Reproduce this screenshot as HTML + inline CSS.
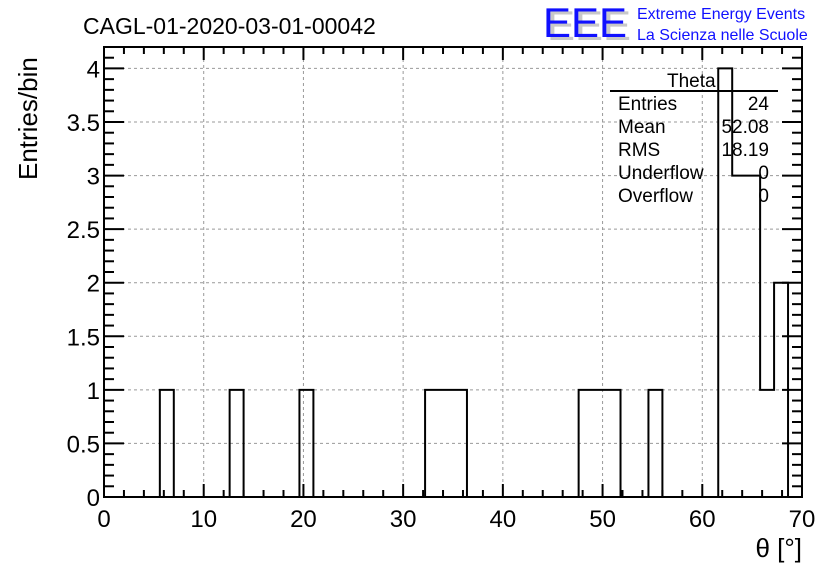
<!DOCTYPE html>
<html><head><meta charset="utf-8"><style>
body{margin:0;background:#fff}
svg{display:block;font-family:"Liberation Sans",sans-serif}
</style></head><body>
<svg id="c" width="836" height="572" viewBox="0 0 836 572">
<rect width="836" height="572" fill="#fff"/>
<text x="83" y="34" font-size="23">CAGL-01-2020-03-01-00042</text>
<g>
<text x="547" y="40" font-size="42" fill="#c8c8c8" textLength="84" lengthAdjust="spacingAndGlyphs">EEE</text>
<text x="543" y="37" font-size="42" fill="#1010ff" textLength="84" lengthAdjust="spacingAndGlyphs">EEE</text>
<text x="637" y="19" font-size="16" fill="#1010ff">Extreme Energy Events</text>
<text x="637" y="40" font-size="16" fill="#1010ff">La Scienza nelle Scuole</text>
</g>
<g id="grid"></g>
<g id="bars"></g>
<g id="axes"></g>
<g font-size="19">
<text x="667" y="87">Theta</text>
<line x1="610" y1="91" x2="778" y2="91" stroke="#000" stroke-width="2"/>
<text x="618" y="110">Entries</text><text x="769" y="110" text-anchor="end">24</text>
<text x="618" y="133">Mean</text><text x="769" y="133" text-anchor="end">52.08</text>
<text x="618" y="156">RMS</text><text x="769" y="156" text-anchor="end">18.19</text>
<text x="618" y="179">Underflow</text><text x="769" y="179" text-anchor="end">0</text>
<text x="618" y="202">Overflow</text><text x="769" y="202" text-anchor="end">0</text>
</g>
<text x="802" y="557" font-size="26" text-anchor="end">θ [°]</text>
<text transform="translate(37,180) rotate(-90)" font-size="26">Entries/bin</text>
</svg>
<script>
const binLow = [5.6, 12.6, 19.6, 32.2, 33.6, 35.0, 47.6, 49.0, 50.4, 54.6, 61.6, 63.0, 64.4, 65.8, 67.2];
const binCounts = [1, 1, 1, 1, 1, 1, 1, 1, 1, 1, 4, 3, 3, 1, 2];
const binWidth = 1.4;
const xTicks = [0,10,20,30,40,50,60,70];
const yTicks = [0,0.5,1,1.5,2,2.5,3,3.5,4];
const yTickLabels = ["0","0.5","1","1.5","2","2.5","3","3.5","4"];
const X0=104,X1=802,Y0=497,Y1=47,XMAX=70,YMAX=4.2;
const sx=v=>X0+(X1-X0)*v/XMAX, sy=v=>Y0-(Y0-Y1)*v/YMAX;
const NS="http://www.w3.org/2000/svg";
function mk(p,t,a){const e=document.createElementNS(NS,t);for(const k in a)e.setAttribute(k,a[k]);p.appendChild(e);return e;}
const grid=document.getElementById('grid'),bars=document.getElementById('bars'),axes=document.getElementById('axes');
xTicks.forEach(v=>{if(v>0&&v<XMAX){const l=mk(grid,'line',{x1:sx(v),x2:sx(v),y1:Y1,y2:Y0,stroke:'#999','stroke-dasharray':'3,3'});

}});
yTicks.forEach(v=>{if(v>0){const l=mk(grid,'line',{x1:X0,x2:X1,y1:sy(v),y2:sy(v),stroke:'#999','stroke-dasharray':'3,3'});

}});
let sorted=binLow.map((b,i)=>[b,binCounts[i]]).sort((a,b)=>a[0]-b[0]);
let prevEnd=null;let d=`M${sx(0)},${sy(0)}`;
sorted.forEach(([b,c])=>{ if(prevEnd===null||Math.abs(prevEnd-b)>1e-6){d+=` V${sy(0)} H${sx(b)}`;} d+=` V${sy(c)} H${sx(b+binWidth)}`; prevEnd=b+binWidth;});
d+=` V${sy(0)} H${sx(XMAX)}`;
const hp=mk(bars,'path',{d:d,fill:'none',stroke:'#000','stroke-width':2});


sorted.forEach(([b,c])=>{const r=mk(bars,'rect',{x:sx(b),y:sy(c),width:sx(b+binWidth)-sx(b),height:sy(0)-sy(c),fill:'transparent'});

});
const fr=mk(axes,'rect',{x:X0,y:Y1,width:X1-X0,height:Y0-Y1,fill:'none',stroke:'#000','stroke-width':2});


for(let v=0;v<=XMAX+1e-6;v+=2){const L=(Math.round(v)%10===0)?13:7;
mk(axes,'line',{x1:sx(v),x2:sx(v),y1:Y0,y2:Y0-L,stroke:'#000','stroke-width':2});
mk(axes,'line',{x1:sx(v),x2:sx(v),y1:Y1,y2:Y1+L,stroke:'#000','stroke-width':2});}
for(let i=0;i<=42;i++){const v=i/10;const L=(i%5===0)?20:10;
mk(axes,'line',{x1:X0,x2:X0+L,y1:sy(v),y2:sy(v),stroke:'#000','stroke-width':2});
mk(axes,'line',{x1:X1,x2:X1-L,y1:sy(v),y2:sy(v),stroke:'#000','stroke-width':2});}
xTicks.forEach(v=>{const t=mk(axes,'text',{x:sx(v),y:527,'font-size':24,'text-anchor':'middle'});t.textContent=v;

});
yTicks.forEach((v,i)=>{const t=mk(axes,'text',{x:100,y:sy(v)+9,'font-size':24,'text-anchor':'end'});t.textContent=yTickLabels[i];

});
</script>
</body></html>
